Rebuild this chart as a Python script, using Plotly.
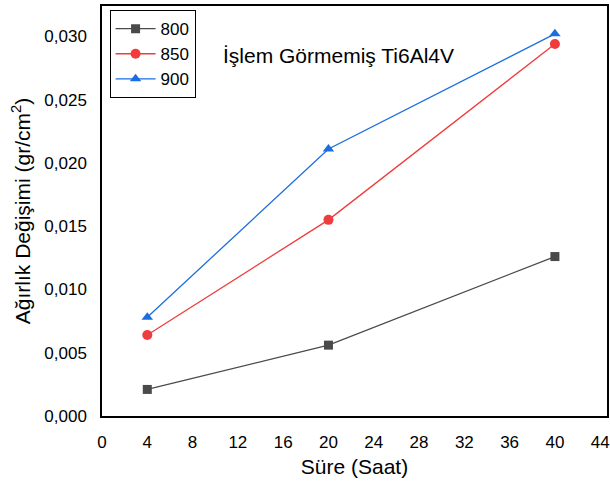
import plotly.graph_objects as go

# Oxidation time (hours) and weight change for each temperature
sure = [4, 20, 40]
seri_800 = [0.0021, 0.0056, 0.0126]
seri_850 = [0.0064, 0.0155, 0.0294]
seri_900 = [0.0078, 0.0211, 0.0302]
x_ticks = list(range(0, 45, 4))
y_ticks = [0.000, 0.005, 0.010, 0.015, 0.020, 0.025, 0.030]
y_labels = [f"{v:.3f}".replace(".", ",") for v in y_ticks]

FONT = "Liberation Sans, Arial, sans-serif"

fig = go.Figure()
series = [
    ("800", seri_800, "#4a4a4a", "square"),
    ("850", seri_850, "#f03c3c", "circle"),
    ("900", seri_900, "#1b6ee0", "triangle-up"),
]
for name, vals, color, sym in series:
    fig.add_trace(go.Scatter(
        x=sure, y=vals, name=name, mode="lines+markers",
        line=dict(color=color, width=1.3),
        marker=dict(symbol=sym, size=10 if sym != "square" else 9, color=color),
    ))

fig.add_annotation(
    x=0.236, y=0.88, xref="paper", yref="paper", xanchor="left", yanchor="middle",
    text="İşlem Görmemiş Ti6Al4V", showarrow=False,
    font=dict(family=FONT, size=21, color="black"),
)

axis_common = dict(
    showgrid=False, zeroline=False, showline=True, linecolor="black",
    linewidth=1.5, mirror=True, ticks="",
    tickfont=dict(family=FONT, size=17, color="black"),
)
fig.update_xaxes(
    range=[0, 44.6], tickvals=x_ticks, ticklabelstandoff=10,
    title=dict(text="Süre (Saat)", font=dict(family=FONT, size=21, color="black"), standoff=8),
    **axis_common,
)
fig.update_yaxes(
    range=[0, 0.0324], tickvals=y_ticks, ticktext=y_labels, ticklabelstandoff=10,
    title=dict(text="Ağırlık Değişimi (gr/cm<sup>2</sup>)",
               font=dict(family=FONT, size=21, color="black"), standoff=8),
    **axis_common,
)

fig.update_layout(
    width=610, height=486,
    margin=dict(l=102, r=1, t=6, b=70),
    plot_bgcolor="white", paper_bgcolor="white",
    showlegend=True,
    legend=dict(
        x=0.015, y=0.99, xanchor="left", yanchor="top",
        bordercolor="black", borderwidth=1, bgcolor="white",
        font=dict(family=FONT, size=17, color="black"),
        tracegroupgap=0, itemwidth=40,
    ),
)

fig.write_html("out.html")
